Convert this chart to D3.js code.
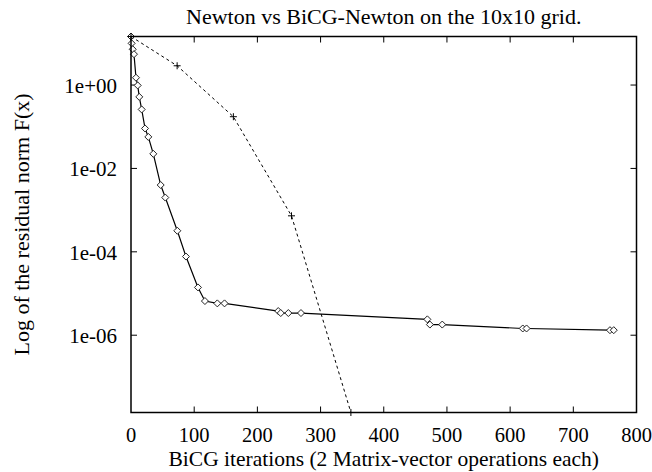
<!DOCTYPE html>
<html>
<head>
<meta charset="utf-8">
<script src="https://cdn.jsdelivr.net/npm/d3@7"></script>
<style>
  body { margin: 0; background: #fff; }
  text { font-family: 'Liberation Serif', 'DejaVu Serif', serif; fill: #000; }
</style>
</head>
<body>
<div id="chart"></div>
<script>

// BiCG-Newton run (solid, diamonds).
const bicgIters = [0, 1, 2.7, 4.7, 7.9, 10.6, 13.1, 16.9, 22.2, 27.4, 35.3, 47, 54.3, 73.3, 87, 106, 117,
  136.6, 148, 233, 237, 249, 269, 469, 473, 492.6, 620, 626, 758, 764]
const bicgResid = [14.6, 10.0, 7.2, 5.5, 1.5, 0.98, 0.52, 0.26, 0.091, 0.057, 0.0224, 4.0e-3, 2.0e-3, 3.2e-4, 7.7e-5, 1.4e-5, 6.6e-6,
  5.8e-6, 5.8e-6, 3.8e-6, 3.4e-6, 3.4e-6, 3.4e-6, 2.4e-6, 1.8e-6, 1.8e-6, 1.45e-6, 1.45e-6, 1.32e-6, 1.32e-6]

// Plain Newton run (dashed, crosses).
const newtonIters = [0, 73, 162, 254, 348]
const newtonResid = [14.6, 2.9, 0.174, 7.3e-4, 1.4e-8]

// Axes.
const xTicks = [0, 100, 200, 300, 400, 500, 600, 700, 800]
const yTicks = [1, 1e-2, 1e-4, 1e-6]
const yTickLabels = ['1e+00', '1e-02', '1e-04', '1e-06']

const title = 'Newton vs BiCG-Newton on the 10x10 grid.'
const xTitle = 'BiCG iterations (2 Matrix-vector operations each)'
const yTitle = 'Log of the residual norm F(x)'

let width = 652,
    height = 472,
    margin = { top: 36.5, right: 15.5, bottom: 59.5, left: 131 }

let svg = d3.select('#chart')
  .append('svg')
    .attr('width', width)
    .attr('height', height)

let x = d3.scaleLinear()
  .domain([0, 800])
  .range([margin.left, width - margin.right])

let y = d3.scaleLog()
  .domain([d3.min(newtonResid), d3.max(newtonResid)])
  .range([height - margin.bottom, margin.top])

let x0 = x.range()[0], x1 = x.range()[1]
let y0 = y.range()[0], y1 = y.range()[1]

// Inward ticks on all four sides.
let tickLen = 6
let ticks = svg.append('g')
  .attr('stroke', '#000')
  .attr('stroke-width', 1)

xTicks.slice(1, -1).forEach(function(t) {
  ticks.append('line').attr('x1', x(t)).attr('x2', x(t)).attr('y1', y0).attr('y2', y0 - tickLen)
  ticks.append('line').attr('x1', x(t)).attr('x2', x(t)).attr('y1', y1).attr('y2', y1 + tickLen)
})
yTicks.forEach(function(t) {
  ticks.append('line').attr('x1', x0).attr('x2', x0 + tickLen).attr('y1', y(t)).attr('y2', y(t))
  ticks.append('line').attr('x1', x1).attr('x2', x1 - tickLen).attr('y1', y(t)).attr('y2', y(t))
})

// Tick labels.
svg.append('g')
  .selectAll('text')
    .data(xTicks)
    .enter()
    .append('text')
      .attr('x', function(d) { return x(d) })
      .attr('y', 442)
      .attr('text-anchor', 'middle')
      .style('font-size', '20.5px')
      .text(function(d) { return d })

svg.append('g')
  .selectAll('text')
    .data(yTicks)
    .enter()
    .append('text')
      .attr('x', x0 - 14)
      .attr('y', function(d) { return y(d) + 8 })
      .attr('text-anchor', 'end')
      .style('font-size', '21px')
      .text(function(d, i) { return yTickLabels[i] })

// Lines.
let line = d3.line()
  .x(function(d) { return x(d[0]) })
  .y(function(d) { return y(d[1]) })

let bicg = d3.zip(bicgIters, bicgResid)
let newton = d3.zip(newtonIters, newtonResid)

svg.append('path')
  .attr('d', line(newton))
  .attr('fill', 'none')
  .attr('stroke', '#000')
  .attr('stroke-width', 1)
  .attr('stroke-dasharray', '3,3')

svg.append('path')
  .attr('d', line(bicg))
  .attr('fill', 'none')
  .attr('stroke', '#000')
  .attr('stroke-width', 1.2)

// Markers.
let r = 3.5
svg.append('g')
  .selectAll('path')
    .data(bicg)
    .enter()
    .append('path')
      .attr('d', function(d) {
        let cx = x(d[0]), cy = y(d[1])
        return 'M' + cx + ',' + (cy - r) + 'L' + (cx + r) + ',' + cy +
               'L' + cx + ',' + (cy + r) + 'L' + (cx - r) + ',' + cy + 'Z'
      })
      .attr('fill', '#fff')
      .attr('stroke', '#222')
      .attr('stroke-width', 1)

svg.append('g')
  .selectAll('path')
    .data(newton)
    .enter()
    .append('path')
      .attr('d', function(d) {
        let cx = x(d[0]), cy = y(d[1])
        return 'M' + (cx - r) + ',' + cy + 'H' + (cx + r) + 'M' + cx + ',' + (cy - r) + 'V' + (cy + r)
      })
      .attr('stroke', '#000')
      .attr('stroke-width', 1)

// Border box.
svg.append('rect')
  .attr('x', x0)
  .attr('y', y1)
  .attr('width', x1 - x0)
  .attr('height', y0 - y1)
  .attr('fill', 'none')
  .attr('stroke', '#000')
  .attr('stroke-width', 1.5)

// Titles.
svg.append('text')
  .attr('x', (x0 + x1) / 2)
  .attr('y', 24)
  .attr('text-anchor', 'middle')
  .style('font-size', '22px')
  .text(title)

svg.append('text')
  .attr('x', (x0 + x1) / 2)
  .attr('y', 465.5)
  .attr('text-anchor', 'middle')
  .style('font-size', '21.5px')
  .text(xTitle)

svg.append('text')
  .attr('transform', 'translate(28.5,' + ((y0 + y1) / 2) + ') rotate(-90)')
  .attr('text-anchor', 'middle')
  .style('font-size', '22px')
  .text(yTitle)

</script>
</body>
</html>
